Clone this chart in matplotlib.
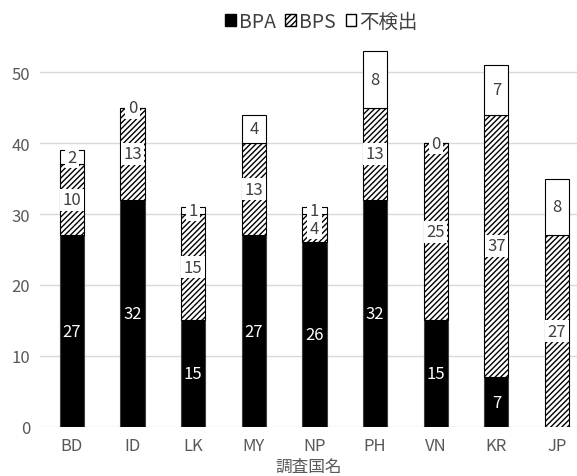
import numpy as np
import matplotlib
matplotlib.use('Agg')
import matplotlib.pyplot as plt
from matplotlib.patches import Patch

plt.rcParams['font.family'] = ['Noto Sans CJK JP', 'DejaVu Sans']
plt.rcParams['hatch.linewidth'] = 1.0

# Data
countries = ['BD', 'ID', 'LK', 'MY', 'NP', 'PH', 'VN', 'KR', 'JP']
bpa = [27, 32, 15, 27, 26, 32, 15, 7, 0]
bps = [10, 13, 15, 13, 4, 13, 25, 37, 27]
nd = [2, 0, 1, 4, 1, 8, 0, 7, 8]

x = np.arange(len(countries))
bpa = np.array(bpa)
bps = np.array(bps)
nd = np.array(nd)

fig = plt.figure(figsize=(5.77, 4.77), dpi=100)
ax = fig.add_axes([0.069, 0.103, 0.931, 0.818])

w = 0.4
ax.bar(x, bpa, w, color='black', edgecolor='#404040', linewidth=0.8, zorder=2)
ax.bar(x, bps, w, bottom=bpa, color='white', edgecolor='black', hatch='//////',
       linewidth=0.8, zorder=2)
ax.bar(x, nd, w, bottom=bpa + bps, color='white', edgecolor='black', linewidth=0.8, zorder=2)

# Value labels
lbl = dict(ha='center', va='center', fontsize=12, zorder=4)
box = dict(boxstyle='square,pad=0.15', facecolor='white', edgecolor='none')
for i in range(len(x)):
    if bpa[i] > 0:
        ax.text(x[i], bpa[i] / 2, str(bpa[i]), color='white', **lbl)
    ax.text(x[i], bpa[i] + bps[i] / 2, str(bps[i]), color='#404040', bbox=box, **lbl)
    ax.text(x[i], bpa[i] + bps[i] + nd[i] / 2, str(nd[i]), color='#404040', bbox=box, **lbl)

ax.set_xlim(-0.53, 8.33)
ax.set_ylim(0, 55)
ax.set_yticks([0, 10, 20, 30, 40, 50])
ax.set_xticks(x)
ax.set_xticklabels(countries)
ax.tick_params(axis='both', length=0, labelsize=12, colors='#595959', pad=7)
ax.yaxis.grid(True, color='#d9d9d9', linewidth=1, zorder=0)
ax.set_axisbelow(True)
for s in ax.spines.values():
    s.set_visible(False)
ax.set_xlabel('調査国名', fontsize=12, color='#595959', labelpad=3)

handles = [Patch(facecolor='black', edgecolor='black'),
           Patch(facecolor='white', edgecolor='black', hatch='//////'),
           Patch(facecolor='white', edgecolor='black')]
fig.legend(handles, ['BPA', 'BPS', '不検出'], loc='center', bbox_to_anchor=(0.557, 0.953),
           ncol=3, frameon=False, fontsize=14, handlelength=0.55, handleheight=0.55,
           handletextpad=0.15, columnspacing=0.5, labelcolor='#404040')

fig.savefig('out.png', dpi=100)
